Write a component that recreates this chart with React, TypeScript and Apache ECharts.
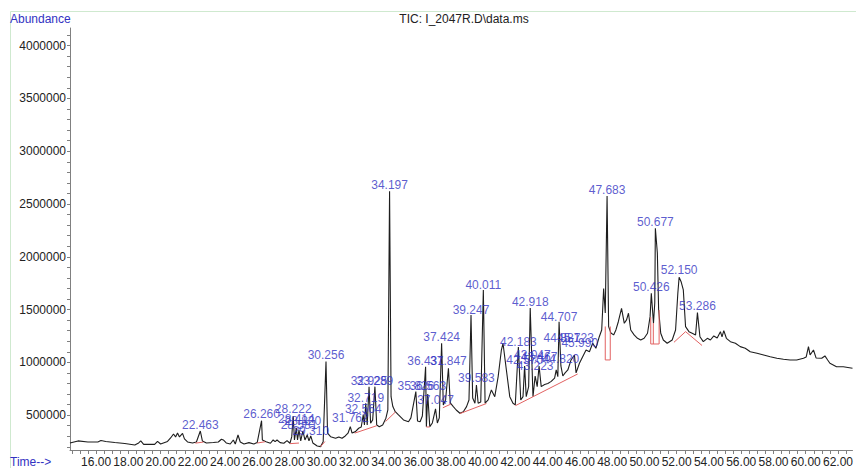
import React, { useEffect, useRef } from "react";
import * as echarts from "echarts";

// ---- Chromatogram trace (retention time in minutes, abundance) ----
const traceTime = [
  14.38, 14.88, 15.49, 16.11, 16.3, 16.6, 17.16, 17.78, 18.4, 18.64, 18.77, 18.95, 19.63, 19.81, 20.0,
  20.43, 20.62, 20.8, 20.93, 21.05, 21.17, 21.36, 21.48, 21.67, 21.98, 22.22, 22.463, 22.59, 22.84,
  23.27, 23.58, 23.77, 23.89, 24.07, 24.32, 24.51, 24.63, 24.8, 24.94, 25.17, 25.48, 25.78, 25.99,
  26.26, 26.31, 26.54, 26.81, 26.98, 27.1, 27.22, 27.41, 27.64, 27.84, 28.02, 28.13, 28.222, 28.3,
  28.414, 28.49, 28.581, 28.69, 28.82, 28.95, 29.09, 29.2, 29.31, 29.44, 29.71, 29.92, 30.08, 30.256,
  30.35, 30.54, 30.85, 31.05, 31.25, 31.45, 31.62, 31.762, 31.87, 32.08, 32.28, 32.44, 32.564, 32.64,
  32.719, 32.81, 32.925, 33.02, 33.15, 33.289, 33.4, 33.56, 33.77, 33.97, 34.09, 34.197, 34.29, 34.4,
  34.55, 34.75, 35.06, 35.37, 35.52, 35.826, 35.93, 36.09, 36.23, 36.431, 36.48, 36.563, 36.69, 36.85,
  37.047, 37.16, 37.28, 37.424, 37.53, 37.67, 37.847, 37.96, 38.15, 38.33, 38.56, 38.77, 38.97, 39.12,
  39.247, 39.35, 39.49, 39.583, 39.69, 39.85, 40.011, 40.12, 40.31, 40.51, 40.72, 40.93, 41.13, 41.23,
  41.44, 41.65, 41.85, 41.99, 42.183, 42.33, 42.47, 42.57, 42.67, 42.82, 42.918, 43.09, 43.223, 43.35,
  43.467, 43.6, 43.81, 44.01, 44.22, 44.43, 44.53, 44.63, 44.707, 44.82, 44.94, 45.08, 45.25, 45.45,
  45.66, 45.76, 45.97, 46.17, 46.38, 46.59, 46.79, 46.99, 47.2, 47.35, 47.47, 47.57, 47.683, 47.78,
  47.92, 48.09, 48.23, 48.38, 48.58, 48.75, 48.89, 49.01, 49.15, 49.36, 49.57, 49.77, 49.98, 50.19,
  50.35, 50.426, 50.56, 50.64, 50.677, 50.8, 50.88, 51.01, 51.17, 51.41, 51.72, 51.93, 52.07, 52.15,
  52.28, 52.41, 52.55, 52.76, 52.96, 53.17, 53.286, 53.44, 53.65, 53.9, 54.09, 54.3, 54.51, 54.71,
  54.81, 54.92, 55.08, 55.33, 55.64, 55.94, 56.25, 56.56, 56.98, 57.39, 57.8, 58.21, 58.62, 59.03,
  59.44, 59.86, 60.03, 60.17, 60.27, 60.48, 60.64, 60.99, 61.19, 61.36, 61.5, 61.91, 62.33, 62.9,
];
const traceAbundance = [
  237000, 256000, 246000, 246000, 260000, 251000, 241000, 232000, 218000, 237000, 256000, 223000, 223000, 251000, 227000,
  251000, 284000, 322000, 294000, 331000, 294000, 327000, 275000, 246000, 237000, 246000, 350000, 256000, 237000,
  241000, 246000, 272000, 265000, 237000, 227000, 265000, 227000, 312000, 246000, 227000, 240000, 227000, 240000,
  448000, 265000, 249000, 234000, 265000, 249000, 265000, 240000, 234000, 259000, 234000, 294000, 492000, 265000,
  379000, 265000, 360000, 256000, 350000, 265000, 312000, 256000, 303000, 237000, 208000, 202000, 249000, 1007000,
  329000, 296000, 281000, 294000, 281000, 303000, 329000, 391000, 331000, 344000, 376000, 388000, 502000, 407000,
  613000, 407000, 770000, 423000, 455000, 770000, 407000, 391000, 407000, 471000, 549000, 2620000, 675000, 581000,
  533000, 502000, 455000, 438000, 474000, 723000, 445000, 438000, 492000, 959000, 391000, 700000, 391000, 426000,
  559000, 426000, 474000, 1181000, 597000, 644000, 944000, 616000, 581000, 549000, 518000, 533000, 581000, 644000,
  1449000, 663000, 613000, 786000, 613000, 625000, 1686000, 613000, 644000, 739000, 675000, 865000, 1117000, 1181000,
  928000, 675000, 613000, 597000, 1146000, 644000, 675000, 966000, 675000, 770000, 1515000, 675000, 871000, 770000,
  966000, 770000, 790000, 800000, 820000, 850000, 928000, 865000, 1385000, 966000, 871000, 900000, 928000, 1023000,
  1070000, 900000, 992000, 1054000, 1117000, 1101000, 1181000, 1134000, 1243000, 1307000, 1700000, 1468000, 2576000, 1338000,
  1278000, 1260000, 1307000, 1385000, 1512000, 1370000, 1402000, 1465000, 1307000, 1260000, 1228000, 1212000, 1228000, 1276000,
  1433000, 1654000, 1370000, 1563000, 2270000, 2036000, 1496000, 1276000, 1212000, 1181000, 1212000, 1307000, 1654000, 1806000,
  1761000, 1686000, 1338000, 1291000, 1276000, 1260000, 1471000, 1243000, 1196000, 1228000, 1212000, 1250000, 1231000, 1291000,
  1241000, 1300000, 1228000, 1196000, 1181000, 1149000, 1134000, 1101000, 1086000, 1070000, 1054000, 1039000, 1029000, 1023000,
  1023000, 1039000, 1051000, 1149000, 1070000, 1117000, 1042000, 1039000, 1061000, 1023000, 992000, 959000, 959000, 944000,
];

// ---- Peak annotations (retention time text, abundance where the label sits) ----
const peakLabels = [
  "22.463", "26.260", "28.222", "28.414", "28.581", "28.820", "29.310", "30.256", "31.762", "32.564",
  "32.719", "32.925", "33.289", "34.197", "35.826", "36.563", "36.431", "37.047", "37.424", "37.847",
  "39.247", "39.583", "40.011", "42.183", "42.570", "42.918", "43.047", "43.223", "43.467", "44.707",
  "44.820", "44.881", "45.723", "45.990", "47.683", "50.426", "50.677", "52.150", "53.286",
];
const peakLabelAbundance = [
  407000, 511000, 559000, 464000, 407000, 445000, 350000, 1070000, 474000, 559000,
  663000, 824000, 824000, 2680000, 777000, 777000, 1013000, 644000, 1241000, 1013000,
  1496000, 852000, 1733000, 1193000, 1023000, 1572000, 1070000, 966000, 1051000, 1430000,
  1032000, 1231000, 1231000, 1184000, 2633000, 1714000, 2330000, 1875000, 1534000,
];

// ---- Integration baselines (null separates segments) ----
const baselineTime = [
  22.16, 22.65, null, 25.99, 26.48, null, 28.02, 28.58, null, 29.92, 30.19, null,
  32.04, 33.4, null, 33.95, 34.56, null, 36.48, 36.69, null, 37.5, 38.0, null,
  38.56, 40.2, null, 42.0, 45.86, null, 47.57, 47.57, 47.88, 47.88, null,
  50.39, 50.39, 50.91, 50.91, null, 50.55, 50.55, null, 51.83, 52.55, 53.57,
];
const baselineAbundance = [
  235000, 245000, null, 236000, 248000, null, 230000, 236000, null, 202000, 250000, null,
  330000, 400000, null, 440000, 530000, null, 388000, 388000, null, 570000, 605000, null,
  515000, 610000, null, 590000, 890000, null, 1340000, 1023000, 1023000, 1340000, null,
  1430000, 1174000, 1174000, 1496000, null, 1373000, 1174000, null, 1190000, 1291000, 1160000,
];

// ---- Axis labels ----
const yLabelValues = [500000, 1000000, 1500000, 2000000, 2500000, 3000000, 3500000, 4000000];
const xLabelValues = [16, 18, 20, 22, 24, 26, 28, 30, 32, 34, 36, 38, 40, 42, 44, 46, 48, 50, 52, 54, 56, 58, 60, 62];

const FONT = "'Liberation Sans', Arial, Helvetica, sans-serif";
const BLUE = "#3232c2";

export default function App() {
  const ref = useRef<HTMLDivElement>(null);

  useEffect(() => {
    document.body.style.margin = "0";
    const chart = echarts.init(ref.current as HTMLDivElement, null, { renderer: "svg" });

    const trace = traceTime.map((t, i) => [t, traceAbundance[i]]);
    const labelData = peakLabels.map((s, i) => ({ name: s, value: [parseFloat(s), peakLabelAbundance[i]] }));

    const segments: number[][][] = [];
    let cur: number[][] = [];
    baselineTime.forEach((t, i) => {
      const v = baselineAbundance[i];
      if (t === null || v === null) {
        if (cur.length) segments.push(cur);
        cur = [];
      } else cur.push([t as number, v as number]);
    });
    if (cur.length) segments.push(cur);

    const yTicks: number[] = [];
    for (let v = 200000; v <= 4100000; v += 100000) yTicks.push(v);
    const xTicks: number[] = [];
    for (let t = 14.5; t <= 62.5; t += 0.5) xTicks.push(t);

    const baselineSeries = segments.map((seg) => ({
      type: "line",
      data: seg,
      showSymbol: false,
      silent: true,
      lineStyle: { color: "#e26262", width: 1 },
      z: 3,
    }));

    chart.setOption({
      animation: false,
      backgroundColor: "#ffffff",
      grid: { left: 70, right: 0, top: 28, bottom: 18, containLabel: false },
      xAxis: {
        type: "value",
        min: 14.383,
        max: 62.9,
        axisLine: { show: true, lineStyle: { color: "#808080", width: 1 } },
        axisTick: { show: true, length: 4, customValues: xTicks, lineStyle: { color: "#808080" } },
        axisLabel: {
          customValues: xLabelValues,
          formatter: (v: number) => v.toFixed(2),
          fontSize: 12,
          fontFamily: FONT,
          color: "#222",
          margin: 6,
        },
        splitLine: { show: false },
      },
      yAxis: {
        type: "value",
        min: 170000,
        max: 4167000,
        axisLine: { show: true, lineStyle: { color: "#808080", width: 1 } },
        axisTick: { show: true, length: 3, customValues: yTicks, lineStyle: { color: "#808080" } },
        axisLabel: {
          customValues: yLabelValues,
          formatter: (v: number) => String(v),
          fontSize: 12,
          fontFamily: FONT,
          color: "#222",
          margin: 4,
        },
        splitLine: { show: false },
      },
      series: [
        {
          type: "line",
          data: trace,
          showSymbol: false,
          silent: true,
          lineStyle: { color: "#1e1e1e", width: 1.1 },
          z: 2,
        },
        ...baselineSeries,
        {
          type: "scatter",
          data: labelData,
          symbolSize: 0,
          silent: true,
          z: 5,
          label: {
            show: true,
            position: "inside",
            formatter: "{b}",
            fontSize: 12,
            fontFamily: FONT,
            color: BLUE,
          },
        },
      ],
      graphic: [
        {
          type: "rect",
          shape: { x: 10.5, y: 11.5, width: 900, height: 520 },
          style: { fill: "none", stroke: "#cfe9cf", lineWidth: 1 },
          silent: true,
          z: -1,
        },
        {
          type: "text",
          x: 10,
          y: 19,
          style: { text: "Abundance", fill: BLUE, font: `12px ${FONT}`, textVerticalAlign: "middle" },
        },
        {
          type: "text",
          x: 464,
          y: 19,
          style: {
            text: "TIC: I_2047R.D\\data.ms",
            fill: "#222",
            font: `12px ${FONT}`,
            textAlign: "center",
            textVerticalAlign: "middle",
          },
        },
        {
          type: "text",
          x: 10,
          y: 462,
          style: { text: "Time-->", fill: BLUE, font: `12px ${FONT}`, textVerticalAlign: "middle" },
        },
      ],
    });

    return () => chart.dispose();
  }, []);

  return <div ref={ref} style={{ width: 856, height: 468 }} />;
}
